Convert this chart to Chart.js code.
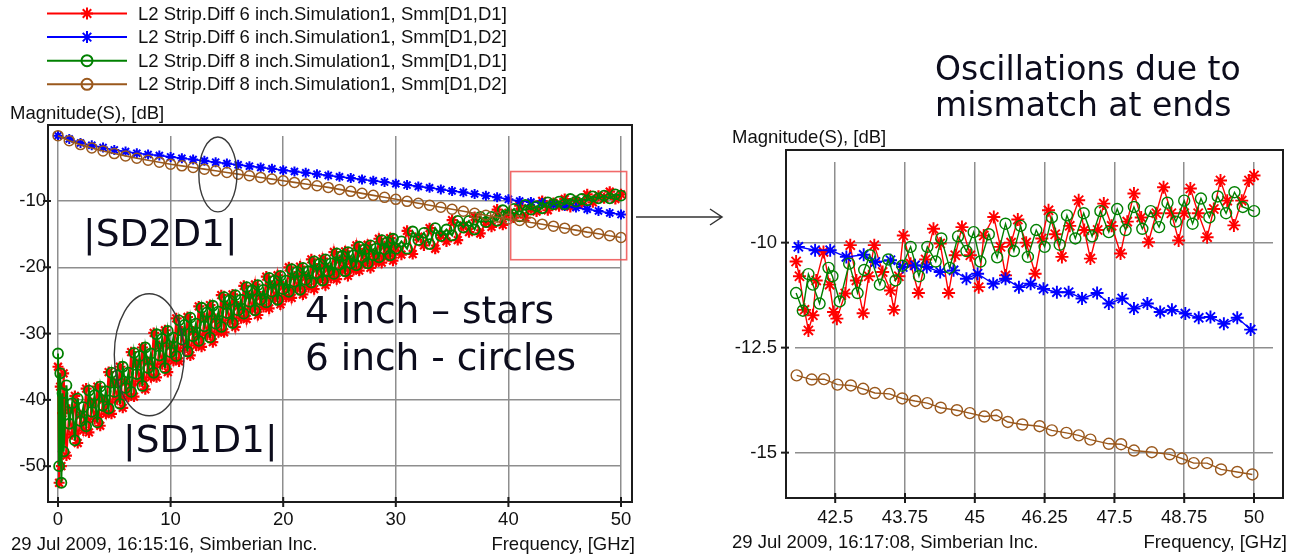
<!DOCTYPE html>
<html>
<head>
<meta charset="utf-8">
<script src="https://cdn.jsdelivr.net/npm/chart.js@4.4.0/dist/chart.umd.min.js"></script>
<style>
  html, body { margin: 0; padding: 0; background: #fff; }
  #page { position: relative; width: 1303px; height: 558px; overflow: hidden; background: #fff; }
  canvas { position: absolute; top: 0; }
  .lbl { position: absolute; font-family: "Liberation Sans", Arial, sans-serif; font-size: 18.5px; line-height: 1; color: #111; white-space: nowrap; }
  .big { position: absolute; font-family: "DejaVu Sans", Verdana, sans-serif; line-height: 1; color: #0c0c1c; white-space: nowrap; }
</style>
</head>
<body>
<div id="page">
  <canvas id="leftChart" width="730" height="558" style="left:0px"></canvas>
  <canvas id="rightChart" width="603" height="558" style="left:700px"></canvas>

  <div class="lbl" style="left:10px; top:104px">Magnitude(S), [dB]</div>
  <div class="lbl" style="left:11px; top:535px">29 Jul 2009, 16:15:16, Simberian Inc.</div>
  <div class="lbl" style="right:668px; top:535px">Frequency, [GHz]</div>
  <div class="lbl" style="left:732px; top:128px">Magnitude(S), [dB]</div>
  <div class="lbl" style="left:732px; top:533px">29 Jul 2009, 16:17:08, Simberian Inc.</div>
  <div class="lbl" style="right:16px; top:533px">Frequency, [GHz]</div>

  <div class="big" style="left:83px; top:215px; font-size:37.5px">|SD2D1|</div>
  <div class="big" style="left:123px; top:421px; font-size:37.5px">|SD1D1|</div>
  <div class="big" style="left:305px; top:292px; font-size:37.5px">4 inch – stars</div>
  <div class="big" style="left:305px; top:339px; font-size:37.5px">6 inch - circles</div>
  <div class="big" style="left:935px; top:52px; font-size:33px">Oscillations due to</div>
  <div class="big" style="left:935px; top:88px; font-size:33px">mismatch at ends</div>
</div>

<script>
const FONT = '"Liberation Sans", Arial, sans-serif';

const seriesNames = [
    "L2 Strip.Diff 6 inch.Simulation1, Smm[D1,D1]",
    "L2 Strip.Diff 6 inch.Simulation1, Smm[D1,D2]",
    "L2 Strip.Diff 8 inch.Simulation1, Smm[D1,D1]",
    "L2 Strip.Diff 8 inch.Simulation1, Smm[D1,D2]"
];

// left chart, 0..50 GHz
const freqLeft = [0,1,2,3,4,5,6,7,8,9,10,11,12,13,14,15,16,17,18,19,20,21,22,23,24,25,
    26,27,28,29,30,31,32,33,34,35,36,37,38,39,40,41,42,43,44,45,46,47,48,49,50];
const blueLeft = [-0.15,-0.65,-1.25,-1.6,-1.95,-2.3,-2.55,-2.8,-3.0,-3.15,-3.35,-3.55,-3.75,-3.95,
    -4.15,-4.35,-4.55,-4.75,-4.95,-5.15,-5.35,-5.55,-5.75,-5.95,-6.15,-6.35,-6.55,-6.75,-6.95,
    -7.15,-7.4,-7.6,-7.8,-8.0,-8.25,-8.5,-8.7,-8.95,-9.2,-9.45,-9.75,-10.0,-10.15,-10.3,-10.55,
    -10.75,-11.0,-11.25,-11.5,-11.8,-12.05];
const brownLeft = [-0.15,-0.9,-1.5,-2.0,-2.45,-2.85,-3.2,-3.55,-3.85,-4.15,-4.45,-4.7,-4.95,-5.2,
    -5.45,-5.7,-5.95,-6.2,-6.45,-6.7,-6.95,-7.2,-7.45,-7.7,-7.95,-8.25,-8.55,-8.85,-9.15,-9.45,
    -9.75,-10.05,-10.35,-10.65,-10.95,-11.25,-11.55,-11.85,-12.15,-12.45,-12.7,-12.95,-13.25,
    -13.5,-13.8,-14.1,-14.4,-14.7,-14.95,-15.25,-15.5];

// return loss band: fine steps up to 30 GHz, coarser above
const freqBand = [0,0.1,0.2,0.3,0.4,
    0.5,0.75,1,1.25,1.5,1.75,2,2.25,2.5,2.75,3,3.25,3.5,3.75,4,4.25,4.5,4.75,5,5.25,5.5,5.75,
    6,6.25,6.5,6.75,7,7.25,7.5,7.75,8,8.25,8.5,8.75,9,9.25,9.5,9.75,10,10.25,10.5,10.75,
    11,11.25,11.5,11.75,12,12.25,12.5,12.75,13,13.25,13.5,13.75,14,14.25,14.5,14.75,
    15,15.25,15.5,15.75,16,16.25,16.5,16.75,17,17.25,17.5,17.75,18,18.25,18.5,18.75,
    19,19.25,19.5,19.75,20,20.25,20.5,20.75,21,21.25,21.5,21.75,22,22.25,22.5,22.75,
    23,23.25,23.5,23.75,24,24.25,24.5,24.75,25,25.25,25.5,25.75,26,26.25,26.5,26.75,
    27,27.25,27.5,27.75,28,28.25,28.5,28.75,29,29.25,29.5,29.75,30,
    30.5,31,31.5,32,32.5,33,33.5,34,34.5,35,35.5,36,36.5,37,37.5,38,38.5,39,39.5,40,
    40.5,41,41.5,42,42.5,43,43.5,44,44.5,45,45.5,46,46.5,47,47.5,48,48.5,49,49.5,50];
const redLeft = [-35,-52.5,-38,-50,-42,
    -36,-48.4,-41.5,-45.2,-39.4,-46.5,-42.3,-44.6,-38.3,-44.9,-40.5,-42.9,-38.0,-43.9,-40,-42.1,
    -35.8,-42.1,-37.5,-39.9,-35.0,-41.2,-37.3,-39.5,-32.8,-39.5,-34.6,-37.2,-32.1,-38.4,-34.3,
    -36.6,-29.9,-36.6,-31.9,-34.6,-29.5,-35.8,-31.9,-34.1,-27.7,-34.2,-29.7,-32.2,-27.5,-33.3,
    -29.7,-31.8,-25.9,-32.0,-27.7,-30.2,-25.7,-31.3,-27.8,-29.8,-24.2,-29.8,-25.9,-28.0,-24.1,
    -29,-25.9,-27.7,-22.8,-27.8,-24.3,-26.3,-22.6,-27.2,-24.4,-26.0,-21.4,-26.2,-22.8,-24.7,
    -21.2,-25.6,-22.9,-24.5,-20,-24.6,-21.4,-23.2,-19.9,-24.1,-21.5,-23.0,-18.8,-23.3,-20.2,
    -21.9,-18.7,-22.7,-20.2,-21.6,-17.7,-21.8,-18.9,-20.5,-17.6,-21.3,-19.1,-20.4,-16.7,-20.5,
    -17.9,-19.4,-16.6,-20.1,-18.0,-19.2,-15.7,-19.3,-16.8,-18.3,-15.6,-19.0,-17.0,
    -18.1,-14.5,-18.0,-15.4,-16.7,-14.1,-17.2,-15.1,-16.1,-12.9,-15.9,-13.7,-14.7,-12.4,-14.9,
    -13.2,-13.9,-11.3,-13.6,-11.8,-12.5,-10.7,-12.5,-11.1,-11.6,-10.0,-11.4,-10.3,-10.8,-9.7,
    -10.9,-10.0,-10.4,-9.0,-10.2,-9.2,-9.6,-8.6,-9.7,-9.0];
const greenLeft = [-33,-50,-36,-52.5,-39,
    -47.8,-37.8,-43.6,-40.5,-46.1,-39.8,-43.2,-41.1,-44.0,-38.6,-41.8,-39.3,-43.4,-38.0,-40.9,
    -38.7,-41.3,-35.9,-38.8,-36.3,-40.6,-35.0,-38.2,-35.9,-38.8,-32.9,-36.1,-33.4,-37.9,-32.1,
    -35.2,-33.0,-35.9,-30.1,-33.3,-30.8,-35.2,-29.6,-32.8,-30.6,-33.4,-28.0,-30.9,-28.7,-32.7,
    -27.6,-30.4,-28.5,-31.1,-26.1,-28.9,-26.8,-30.6,-25.8,-28.5,-26.7,-29.0,-24.5,-26.9,-25.0,
    -28.4,-24.2,-26.5,-24.9,-27.0,-23.0,-25.2,-23.5,-26.5,-22.7,-24.9,-23.4,-25.3,-21.6,-23.7,
    -22.0,-24.9,-21.3,-23.3,-22.0,-23.7,-20.3,-22.2,-20.7,-23.4,-20.1,-21.9,-20.6,-22.3,-19.1,
    -20.9,-19.5,-22.0,-18.8,-20.6,-19.4,-21.0,-17.9,-19.6,-18.3,-20.6,-17.7,-19.4,-18.2,-19.7,
    -16.9,-18.5,-17.3,-19.4,-16.7,-18.2,-17.2,-18.5,-15.9,-17.3,-16.2,-18.2,-15.7,-17.2,
    -16.1,-17.2,-14.6,-15.9,-14.8,-16.5,-14.1,-15.3,-14.3,-15.2,-13.0,-14.0,-13.0,-14.3,-12.4,
    -13.2,-12.4,-13.0,-11.4,-12.1,-11.2,-12.3,-10.6,-11.3,-10.8,-11.1,-10.2,-10.5,-10.1,-10.5,
    -9.7,-10.1,-9.7,-9.9,-9.3,-9.6,-9.2,-9.6,-9.0,-9.2];

// right chart, zoom on 41.8..50 GHz
const freqRedRight = [41.8,41.86,41.95,42.02,42.1,42.16,42.29,42.4,42.47,42.53,42.68,42.77,42.88,
    43.0,43.1,43.2,43.35,43.49,43.55,43.64,43.72,43.85,43.99,44.12,44.26,44.38,44.53,44.65,44.77,
    44.92,45.07,45.16,45.34,45.46,45.55,45.65,45.77,45.92,46.08,46.2,46.32,46.44,46.56,46.7,46.86,
    46.96,47.07,47.2,47.31,47.45,47.61,47.73,47.85,47.98,48.11,48.25,48.38,48.52,48.65,48.75,
    48.86,49.0,49.16,49.28,49.4,49.52,49.64,49.78,49.91,50.0];
const redRight = [-10.45,-10.8,-11.6,-12.09,-11.73,-10.9,-10.22,-11.0,-11.65,-11.81,-11.21,-10.06,
    -10.9,-11.68,-10.8,-10.06,-10.7,-11.14,-11.6,-10.8,-9.83,-10.5,-11.2,-10.4,-9.67,-10.02,-11.2,
    -10.3,-9.63,-10.3,-11.06,-9.83,-9.39,-10.1,-10.78,-10.0,-9.45,-10.0,-10.74,-9.9,-9.23,-9.8,
    -10.34,-9.6,-8.99,-9.7,-10.38,-9.7,-9.07,-9.6,-10.26,-9.5,-8.83,-9.4,-9.99,-9.3,-8.68,-9.3,
    -9.95,-9.3,-8.71,-9.3,-9.87,-9.2,-8.52,-9.0,-9.59,-9.0,-8.52,-8.4];
const freqGreenRight = [41.8,41.92,42.02,42.1,42.22,42.38,42.45,42.58,42.75,42.9,43.02,43.12,43.3,
    43.45,43.58,43.7,43.85,44.0,44.15,44.3,44.4,44.55,44.7,44.85,44.98,45.1,45.25,45.4,45.55,45.7,
    45.82,45.95,46.1,46.25,46.38,46.52,46.65,46.8,46.95,47.1,47.25,47.4,47.55,47.7,47.85,48.0,
    48.15,48.3,48.45,48.6,48.75,48.9,49.05,49.2,49.35,49.5,49.65,49.8,50.0];
const greenRight = [-11.2,-11.62,-10.75,-11.0,-11.45,-10.6,-10.8,-11.4,-10.5,-11.2,-10.65,-10.3,
    -11.0,-10.4,-10.9,-10.55,-10.1,-10.8,-10.1,-10.45,-9.9,-10.6,-9.85,-10.2,-9.75,-10.45,-9.8,
    -10.35,-9.55,-10.2,-9.6,-10.34,-9.7,-10.1,-9.4,-10.05,-9.35,-9.9,-9.3,-9.85,-9.25,-9.75,-9.2,
    -9.7,-9.15,-9.67,-9.25,-9.63,-9.05,-9.5,-9.0,-9.55,-8.95,-9.4,-8.9,-9.3,-8.8,-9.15,-9.25];
const freqBlueRight = [41.84,42.14,42.41,42.7,43.01,43.22,43.49,43.71,43.93,44.14,44.38,44.62,
    44.85,45.05,45.33,45.55,45.79,46.0,46.23,46.47,46.68,46.92,47.19,47.4,47.64,47.85,48.09,
    48.32,48.53,48.77,49.01,49.22,49.46,49.7,49.94];
const blueRight = [-10.1,-10.18,-10.18,-10.34,-10.29,-10.46,-10.42,-10.58,-10.54,-10.58,-10.7,
    -10.66,-10.86,-10.74,-10.98,-10.86,-11.06,-10.98,-11.1,-11.18,-11.18,-11.33,-11.2,-11.45,
    -11.33,-11.57,-11.45,-11.65,-11.6,-11.69,-11.79,-11.77,-11.93,-11.79,-12.07];
const freqBrownRight = [41.81,42.08,42.3,42.54,42.78,43.0,43.21,43.47,43.7,43.93,44.15,44.39,
    44.68,44.91,45.17,45.39,45.59,45.85,46.16,46.38,46.64,46.86,47.07,47.4,47.62,47.85,48.17,
    48.49,48.71,48.92,49.16,49.41,49.7,49.97];
const brownRight = [-13.16,-13.26,-13.25,-13.38,-13.4,-13.48,-13.58,-13.6,-13.71,-13.77,-13.82,
    -13.93,-13.99,-14.06,-14.14,-14.11,-14.27,-14.33,-14.37,-14.47,-14.53,-14.59,-14.69,-14.79,
    -14.8,-14.95,-14.99,-15.04,-15.14,-15.25,-15.25,-15.4,-15.46,-15.52];

const xTicksLeft = [0, 10, 20, 30, 40, 50];
const yTicksLeft = [-10, -20, -30, -40, -50];
const xTicksRight = [42.5, 43.75, 45, 46.25, 47.5, 48.75, 50];
const yTicksRight = [-10, -12.5, -15];

const colors = ["#ff0000", "#0000ff", "#008000", "#9a581c"];
const markers = ["star", "star", "circle", "circle"];

function pts(xs, ys) {
    return xs.map((x, i) => ({ x: x, y: ys[i] }));
}

function makeSet(i, xs, ys, radius, lineW, markW) {
    return {
        label: seriesNames[i],
        data: pts(xs, ys),
        borderColor: colors[i],
        backgroundColor: "rgba(0,0,0,0)",
        borderWidth: lineW,
        pointStyle: markers[i],
        pointRadius: radius,
        pointBorderColor: colors[i],
        pointBackgroundColor: "rgba(0,0,0,0)",
        pointBorderWidth: markW,
        tension: 0,
        clip: false,
        order: 4 - i
    };
}

function scaleOpts(min, max, tickList, pad, fit, isX) {
    return {
        type: "linear",
        min: min,
        max: max,
        afterBuildTicks: s => { s.ticks = tickList.map(v => ({ value: v })); },
        afterFit: s => { if (isX) s.height = fit; else s.width = fit; },
        grid: { color: "#8e8e8e", lineWidth: 1.5, drawTicks: false },
        border: { display: false },
        ticks: {
            padding: pad,
            color: "#111",
            font: { family: FONT, size: 18.5 },
            autoSkip: false,
            maxRotation: 0,
            callback: v => String(v)
        }
    };
}

// box around the plot plus the small tick crosses
const framePlugin = {
    id: "frame",
    afterDraw(chart, args, opts) {
        const ctx = chart.ctx;
        const a = chart.chartArea;
        const l = Math.round(a.left - opts.left), t = Math.round(a.top - opts.top);
        const r = Math.round(a.right + opts.right), b = Math.round(a.bottom);
        ctx.save();
        ctx.strokeStyle = "#1c1c1c";
        ctx.lineWidth = 2;
        ctx.strokeRect(l, t, r - l, b - t);
        chart.scales.y.ticks.forEach(tk => {
            const y = chart.scales.y.getPixelForValue(tk.value);
            ctx.beginPath(); ctx.moveTo(l - 5, y); ctx.lineTo(l + 3, y); ctx.stroke();
        });
        chart.scales.x.ticks.forEach(tk => {
            const x = chart.scales.x.getPixelForValue(tk.value);
            ctx.beginPath(); ctx.moveTo(x, b - 5); ctx.lineTo(x, b + 5); ctx.stroke();
        });
        ctx.restore();
    }
};

function drawMarker(ctx, style, x, y, r) {
    ctx.beginPath();
    if (style === "star") {
        for (let k = 0; k < 4; k++) {
            const ang = k * Math.PI / 4;
            ctx.moveTo(x - r * Math.cos(ang), y - r * Math.sin(ang));
            ctx.lineTo(x + r * Math.cos(ang), y + r * Math.sin(ang));
        }
    } else {
        ctx.arc(x, y, r, 0, Math.PI * 2);
    }
    ctx.stroke();
}

// legend at the top left, line + marker + name
const legendPlugin = {
    id: "sideLegend",
    afterDraw(chart) {
        const ctx = chart.ctx;
        ctx.save();
        chart.data.datasets.forEach((ds, i) => {
            const y = 13.5 + i * 23.6;
            ctx.strokeStyle = ds.borderColor;
            ctx.lineWidth = 2;
            ctx.beginPath(); ctx.moveTo(47, y); ctx.lineTo(127, y); ctx.stroke();
            drawMarker(ctx, ds.pointStyle, 87, y, ds.pointStyle === "star" ? 6 : 5.5);
            ctx.fillStyle = "#111";
            ctx.font = "18.5px " + FONT;
            ctx.textBaseline = "middle";
            ctx.fillText(ds.label, 138, y + 1);
        });
        ctx.restore();
    }
};

// ellipses, zoom box and arrow on the left chart
const notesPlugin = {
    id: "notes",
    afterDraw(chart) {
        const ctx = chart.ctx;
        const xs = chart.scales.x, ys = chart.scales.y;
        const ellipse = (cx, cy, dx, dy) => {
            const px = xs.getPixelForValue(cx), py = ys.getPixelForValue(cy);
            const rx = Math.abs(xs.getPixelForValue(cx + dx) - px);
            const ry = Math.abs(ys.getPixelForValue(cy + dy) - py);
            ctx.beginPath(); ctx.ellipse(px, py, rx, ry, 0, 0, Math.PI * 2); ctx.stroke();
        };
        ctx.save();
        ctx.strokeStyle = "#3a3a3a";
        ctx.lineWidth = 1.4;
        ellipse(14.2, -6.0, 1.69, 5.65);
        ellipse(8.1, -33.2, 3.1, 9.2);

        const x1 = xs.getPixelForValue(40.2), x2 = xs.getPixelForValue(50.5);
        const y1 = ys.getPixelForValue(-5.56), y2 = ys.getPixelForValue(-18.86);
        ctx.strokeStyle = "rgba(238,80,80,0.85)";
        ctx.lineWidth = 1.6;
        ctx.strokeRect(x1, y1, x2 - x1, y2 - y1);

        const ay = Math.round(ys.getPixelForValue(-12.35));
        const ax = chart.chartArea.right + 15;
        ctx.strokeStyle = "#333";
        ctx.lineWidth = 1.5;
        ctx.beginPath();
        ctx.moveTo(ax, ay); ctx.lineTo(ax + 86, ay);
        ctx.moveTo(ax + 74, ay - 8); ctx.lineTo(ax + 86, ay); ctx.lineTo(ax + 74, ay + 8);
        ctx.stroke();
        ctx.restore();
    }
};

new Chart(document.getElementById("leftChart").getContext("2d"), {
    type: "line",
    data: {
        datasets: [
            makeSet(0, freqBand, redLeft, 5.5, 2, 2.2),
            makeSet(1, freqLeft, blueLeft, 5, 1.6, 2),
            makeSet(2, freqBand, greenLeft, 5, 2, 1.8),
            makeSet(3, freqLeft, brownLeft, 5, 1.6, 1.5)
        ]
    },
    options: {
        responsive: false,
        animation: false,
        devicePixelRatio: 1,
        layout: { padding: { left: 4, top: 136, right: 109, bottom: 0 } },
        scales: {
            x: scaleOpts(0, 50, xTicksLeft, 7, 56, true),
            y: scaleOpts(-55.4, -0.2, yTicksLeft, 12, 54, false)
        },
        plugins: {
            legend: { display: false },
            tooltip: { enabled: false },
            frame: { left: 10, top: 11, right: 11 }
        }
    },
    plugins: [framePlugin, legendPlugin, notesPlugin]
});

new Chart(document.getElementById("rightChart").getContext("2d"), {
    type: "line",
    data: {
        datasets: [
            makeSet(0, freqRedRight, redRight, 6.5, 1.4, 1.9),
            makeSet(1, freqBlueRight, blueRight, 6.5, 1.4, 1.9),
            makeSet(2, freqGreenRight, greenRight, 5.5, 1.4, 1.4),
            makeSet(3, freqBrownRight, brownRight, 5.5, 1.4, 1.4)
        ]
    },
    options: {
        responsive: false,
        animation: false,
        devicePixelRatio: 1,
        layout: { padding: { left: 20, top: 162, right: 30, bottom: 0 } },
        scales: {
            x: scaleOpts(41.78, 50.34, xTicksRight, 9, 60, true),
            y: scaleOpts(-16.08, -8.08, yTicksRight, 18, 75, false)
        },
        plugins: {
            legend: { display: false },
            tooltip: { enabled: false },
            frame: { left: 9, top: 12, right: 10 }
        }
    },
    plugins: [framePlugin]
});
</script>
</body>
</html>
